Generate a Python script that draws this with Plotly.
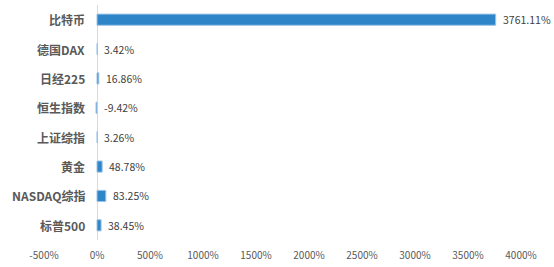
import plotly.graph_objects as go

categories = ["比特币", "德国DAX", "日经225", "恒生指数", "上证综指", "黄金", "NASDAQ综指", "标普500"]
values = [3761.11, 3.42, 16.86, -9.42, 3.26, 48.78, 83.25, 38.45]
tick_vals = [-500, 0, 500, 1000, 1500, 2000, 2500, 3000, 3500, 4000]
tick_text = [f"{v}%" for v in tick_vals]

fig = go.Figure()
fig.add_trace(go.Bar(
    y=categories, x=values, orientation="h", width=0.38,
    marker=dict(color="#2E86C8", line=dict(color="#9DC3E6", width=1)),
    hoverinfo="x+y",
))

annotations = []
for c, v in zip(categories, values):
    annotations.append(dict(x=max(v, 0), y=c, xref="x", yref="y", text=f"{v:.2f}%",
                            showarrow=False, xanchor="left", xshift=5,
                            font=dict(size=10.5, color="#404040", family="Noto Sans CJK SC")))
    annotations.append(dict(x=0, y=c, xref="x", yref="y", text=f"<b>{c}</b>",
                            showarrow=False, xanchor="right", xshift=-10,
                            font=dict(size=12, color="#595959", family="Noto Sans CJK SC")))

fig.update_layout(
    width=554, height=267,
    margin=dict(l=44, r=33, t=5, b=24),
    paper_bgcolor="white", plot_bgcolor="white",
    showlegend=False,
    annotations=annotations,
    xaxis=dict(range=[-500, 4000], tickvals=tick_vals, ticktext=tick_text,
               showgrid=False, zeroline=True, zerolinecolor="#D9D9D9", zerolinewidth=1,
               tickfont=dict(size=10, color="#595959", family="Noto Sans CJK SC"),
               showline=False, ticks="", ticklabelstandoff=8),
    yaxis=dict(range=[7.5, -0.5], showticklabels=False, showgrid=False, zeroline=False,
               categoryorder="array", categoryarray=categories),
)
fig.write_html("out.html")
